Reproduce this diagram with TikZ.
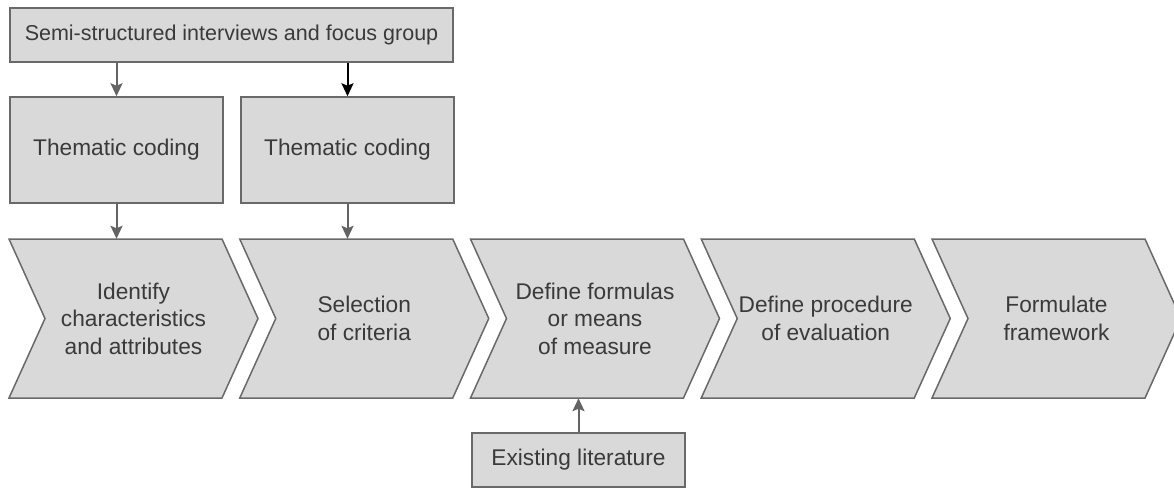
\documentclass[tikz,border=0pt]{standalone}
\usepackage{fontspec}
\setmainfont{Liberation Sans}
\usetikzlibrary{arrows.meta}
\definecolor{boxfill}{RGB}{217,217,217}
\definecolor{boxline}{RGB}{105,105,105}
\definecolor{txt}{RGB}{58,58,58}
\definecolor{arrgray}{RGB}{100,100,100}
\tikzset{
  box/.style={draw=boxline,fill=boxfill,line width=1.5pt,inner sep=0pt,text=txt,
    font=\fontsize{22.7}{27.5}\selectfont,align=center},
  chevtext/.style={inner sep=0pt,text=txt,font=\fontsize{22.7}{27.5}\selectfont,
    align=center,minimum height=159pt},
  arr/.style={draw=arrgray,line width=2pt,-{Stealth[length=13pt,width=12pt,inset=2.5pt]}},
  chev/.pic={\draw[draw=boxline,fill=boxfill,line width=1.5pt,line join=miter]
    (0,0) -- (213,0) -- (249,79.5) -- (213,159) -- (0,159) -- (36,79.5) -- cycle;}
}
\begin{document}
\begin{tikzpicture}[x=1pt,y=-1pt]
\useasboundingbox (0,0) rectangle (1174,488);
\clip (0,0) rectangle (1174,488);
% top boxes
\node[box,minimum width=443pt,minimum height=54pt,font=\fontsize{21.5}{26}\selectfont] (src) at (231.5,35) {Semi-structured interviews and focus group};
\node[box,minimum width=213pt,minimum height=106pt] (th1) at (116.5,150) {Thematic coding};
\node[box,minimum width=213pt,minimum height=106pt] (th2) at (347.5,150) {Thematic coding};
% chevrons
\pic at (9,239) {chev};
\pic at (239.75,239) {chev};
\pic at (470.5,239) {chev};
\pic at (701.25,239) {chev};
\pic at (932,239) {chev};
\node[chevtext] (c1) at (133.5,318.5) {Identify\\characteristics\\and attributes};
\node[chevtext] (c2) at (364.25,318.5) {Selection\\of criteria};
\node[chevtext] (c3) at (595,318.5) {Define formulas\\or means\\of measure};
\node[chevtext] (c4) at (825.75,318.5) {Define procedure\\of evaluation};
\node[chevtext] (c5) at (1056.5,318.5) {Formulate\\framework};
% literature
\node[box,minimum width=213pt,minimum height=54pt] (lit) at (578.5,460) {Existing literature};
% arrows
\draw[arr] (src.south -| th1) -- (th1.north);
\draw[arr,draw=black] (src.south -| th2) -- (th2.north);
\draw[arr] (th1.south) -- (th1.south |- c1.north);
\draw[arr] (th2.south) -- (th2.south |- c2.north);
\draw[arr] (lit.north) -- (lit.north |- c3.south);
\end{tikzpicture}
\end{document}
